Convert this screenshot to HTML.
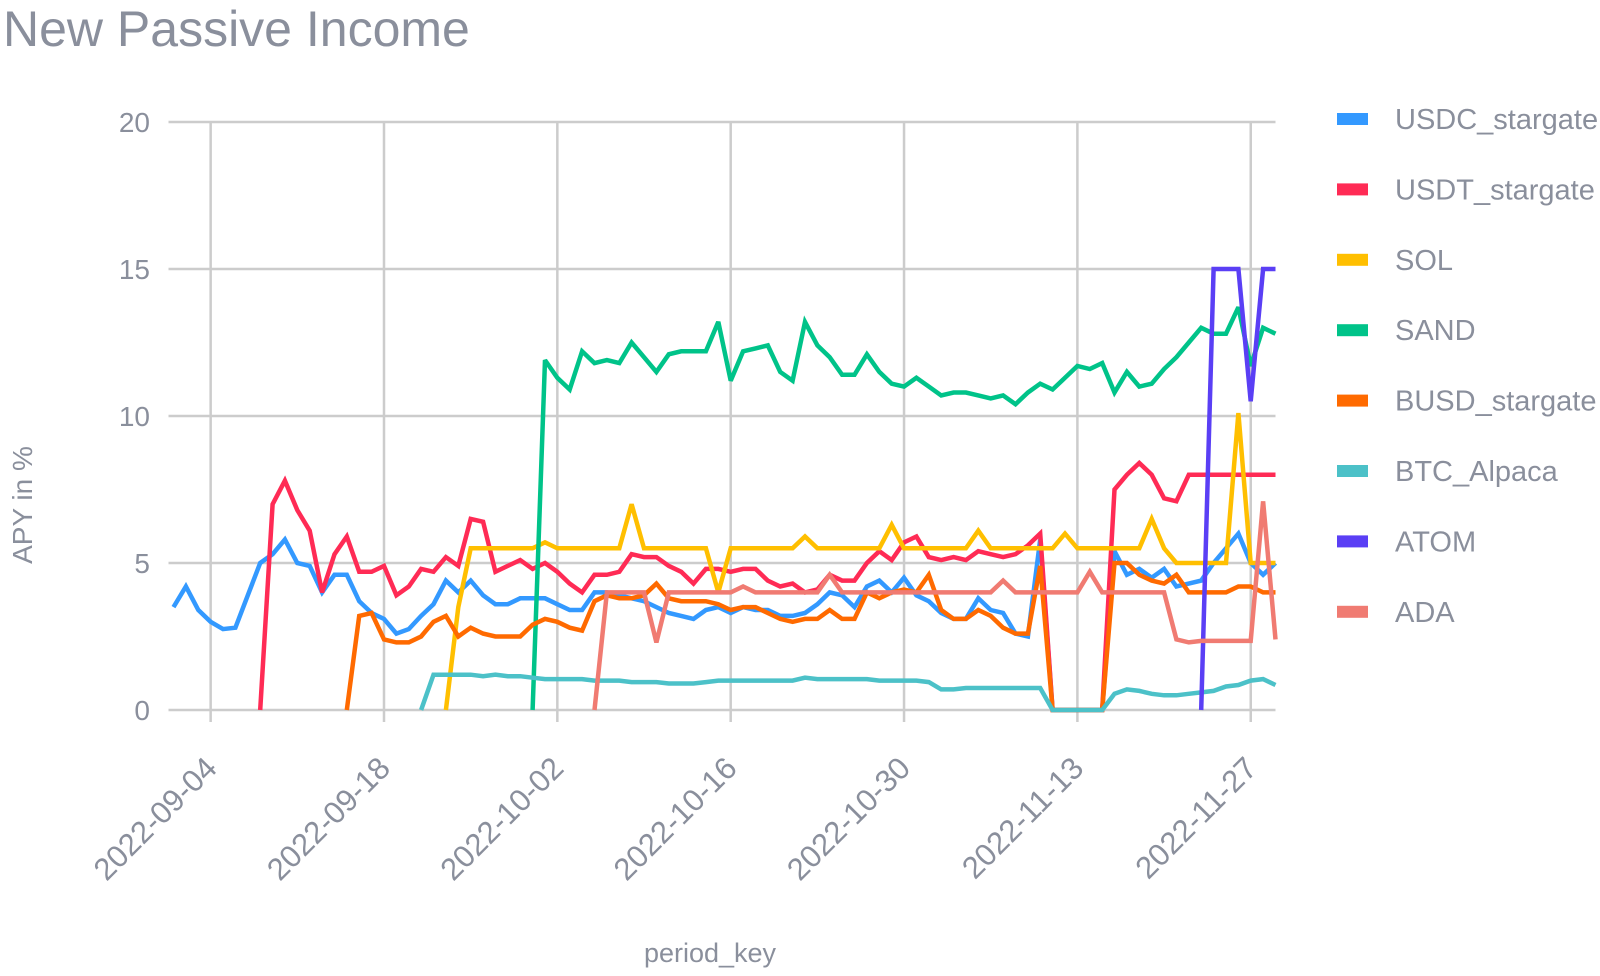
<!DOCTYPE html>
<html><head><meta charset="utf-8"><style>
body{margin:0;background:#fff;width:1600px;height:971px;overflow:hidden;font-family:"Liberation Sans",sans-serif}
</style></head><body>
<svg id="chart" width="1600" height="971" xmlns="http://www.w3.org/2000/svg" font-family="Liberation Sans, sans-serif">
<text x="3" y="46" font-size="50" fill="#8a8f9c">New Passive Income</text>
<g id="grid"></g><g id="series"></g><g id="legend"></g>
<text x="710" y="962" font-size="27" fill="#8a8f9c" text-anchor="middle">period_key</text>
<text transform="translate(32,505) rotate(-90)" font-size="28" fill="#8a8f9c" text-anchor="middle">APY in %</text>
</svg>
<script>
const N=null;
const startDate="2022-09-01";
const xTickLabels=["2022-09-04","2022-09-18","2022-10-02","2022-10-16","2022-10-30","2022-11-13","2022-11-27"];
const xTickIdx=[3,17,31,45,59,73,87];
const yTicks=[0,5,10,15,20];
const seriesNames=["USDC_stargate","USDT_stargate","SOL","SAND","BUSD_stargate","BTC_Alpaca","ATOM","ADA"];
const seriesColors=["#3399ff","#ff2b55","#ffbf00","#00c389","#ff6a00","#4cc1c8","#5a3ff5","#f07b72"];
const usdc=[3.5,4.2,3.4,3.0,2.75,2.8,3.9,5.0,5.3,5.8,5.0,4.9,4.0,4.6,4.6,3.7,3.3,3.1,2.6,2.75,3.2,3.6,4.4,4.0,4.4,3.9,3.6,3.6,3.8,3.8,3.8,3.6,3.4,3.4,4.0,4.0,3.9,3.8,3.7,3.5,3.3,3.2,3.1,3.4,3.5,3.3,3.5,3.4,3.4,3.2,3.2,3.3,3.6,4.0,3.9,3.5,4.2,4.4,4.0,4.5,3.9,3.7,3.3,3.1,3.1,3.8,3.4,3.3,2.6,2.5,5.8,0,0,0,0,0,5.4,4.6,4.8,4.5,4.8,4.2,4.3,4.4,5.0,5.5,6.0,5.0,4.6,5.0];
const usdt=[N,N,N,N,N,N,N,0,7.0,7.8,6.8,6.1,4.0,5.3,5.9,4.7,4.7,4.9,3.9,4.2,4.8,4.7,5.2,4.9,6.5,6.4,4.7,4.9,5.1,4.8,5.0,4.7,4.3,4.0,4.6,4.6,4.7,5.3,5.2,5.2,4.9,4.7,4.3,4.8,4.8,4.7,4.8,4.8,4.4,4.2,4.3,4.0,4.1,4.6,4.4,4.4,5.0,5.4,5.1,5.7,5.9,5.2,5.1,5.2,5.1,5.4,5.3,5.2,5.3,5.6,6.0,0,0,0,0,0,7.5,8.0,8.4,8.0,7.2,7.1,8.0,8,8,8,8,8,8,8];
const sol=[N,N,N,N,N,N,N,N,N,N,N,N,N,N,N,N,N,N,N,N,N,N,0,3.5,5.5,5.5,5.5,5.5,5.5,5.5,5.7,5.5,5.5,5.5,5.5,5.5,5.5,7.0,5.5,5.5,5.5,5.5,5.5,5.5,4.0,5.5,5.5,5.5,5.5,5.5,5.5,5.9,5.5,5.5,5.5,5.5,5.5,5.5,6.3,5.5,5.5,5.5,5.5,5.5,5.5,6.1,5.5,5.5,5.5,5.5,5.5,5.5,6.0,5.5,5.5,5.5,5.5,5.5,5.5,6.5,5.5,5.0,5.0,5.0,5.0,5.0,10.1,5.0,5.0,5.0];
const sand=[N,N,N,N,N,N,N,N,N,N,N,N,N,N,N,N,N,N,N,N,N,N,N,N,N,N,N,N,N,0,11.9,11.3,10.9,12.2,11.8,11.9,11.8,12.5,12.0,11.5,12.1,12.2,12.2,12.2,13.2,11.2,12.2,12.3,12.4,11.5,11.2,13.2,12.4,12.0,11.4,11.4,12.1,11.5,11.1,11.0,11.3,11.0,10.7,10.8,10.8,10.7,10.6,10.7,10.4,10.8,11.1,10.9,11.3,11.7,11.6,11.8,10.8,11.5,11.0,11.1,11.6,12.0,12.5,13.0,12.8,12.8,13.7,11.7,13.0,12.8];
const busd=[N,N,N,N,N,N,N,N,N,N,N,N,N,N,0,3.2,3.3,2.4,2.3,2.3,2.5,3.0,3.2,2.5,2.8,2.6,2.5,2.5,2.5,2.9,3.1,3.0,2.8,2.7,3.7,3.9,3.8,3.8,3.9,4.3,3.8,3.7,3.7,3.7,3.6,3.4,3.5,3.5,3.3,3.1,3.0,3.1,3.1,3.4,3.1,3.1,4.0,3.8,4.0,4.1,4.0,4.6,3.4,3.1,3.1,3.4,3.2,2.8,2.6,2.6,4.9,0,0,0,0,0,5.0,5.0,4.6,4.4,4.3,4.6,4.0,4.0,4.0,4.0,4.2,4.2,4.0,4.0];
const btc=[N,N,N,N,N,N,N,N,N,N,N,N,N,N,N,N,N,N,N,N,0,1.2,1.2,1.2,1.2,1.15,1.2,1.15,1.15,1.1,1.05,1.05,1.05,1.05,1.0,1.0,1.0,0.95,0.95,0.95,0.9,0.9,0.9,0.95,1.0,1.0,1.0,1.0,1.0,1.0,1.0,1.1,1.05,1.05,1.05,1.05,1.05,1.0,1.0,1.0,1.0,0.95,0.7,0.7,0.75,0.75,0.75,0.75,0.75,0.75,0.75,0,0,0,0,0,0.55,0.7,0.65,0.55,0.5,0.5,0.55,0.6,0.65,0.8,0.85,1.0,1.05,0.85];
const atom=[N,N,N,N,N,N,N,N,N,N,N,N,N,N,N,N,N,N,N,N,N,N,N,N,N,N,N,N,N,N,N,N,N,N,N,N,N,N,N,N,N,N,N,N,N,N,N,N,N,N,N,N,N,N,N,N,N,N,N,N,N,N,N,N,N,N,N,N,N,N,N,N,N,N,N,N,N,N,N,N,N,N,N,0,15,15,15,10.5,15,15];
const ada=[N,N,N,N,N,N,N,N,N,N,N,N,N,N,N,N,N,N,N,N,N,N,N,N,N,N,N,N,N,N,N,N,N,N,0,4.0,4.0,4.0,4.0,2.3,4.0,4.0,4.0,4.0,4.0,4.0,4.2,4.0,4.0,4.0,4.0,4.0,4.0,4.6,4.0,4.0,4.0,4.0,4.0,4.0,4.0,4.0,4.0,4.0,4.0,4.0,4.0,4.4,4.0,4.0,4.0,4.0,4.0,4.0,4.7,4.0,4.0,4.0,4.0,4.0,4.0,2.4,2.3,2.35,2.35,2.35,2.35,2.35,7.1,2.4];
const seriesData=[usdc,usdt,sol,sand,busd,btc,atom,ada];

const NS="http://www.w3.org/2000/svg";
const X0=173.5,X1=1275.5,Y0=710,Y20=122,NPTS=90;
function xScale(i){return X0+(X1-X0)*i/(NPTS-1);}
function yScale(v){return Y0+(Y20-Y0)*v/20;}
function mk(tag,attrs,parent){const e=document.createElementNS(NS,tag);for(const k in attrs)e.setAttribute(k,attrs[k]);parent.appendChild(e);return e;}
const grid=document.getElementById('grid');
yTicks.forEach(t=>{
  const l=mk('line',{x1:X0-5,x2:X1,y1:yScale(t),y2:yScale(t),stroke:'#cccccc','stroke-width':2.5},grid);
  
  
  const tx=mk('text',{x:150,y:yScale(t)+10,'font-size':28,fill:'#8a8f9c','text-anchor':'end'},grid);
  tx.textContent=t;
  
  
});
xTickIdx.forEach((ix,k)=>{
  const x=xScale(ix);
  const l=mk('line',{x1:x,x2:x,y1:Y20,y2:Y0+12,stroke:'#cccccc','stroke-width':2.5},grid);
  
  
  const tx=mk('text',{x:x+8,y:Y0+60,'font-size':31,fill:'#8a8f9c','text-anchor':'end',transform:`rotate(-45 ${x+8} ${Y0+60})`},grid);
  tx.textContent=xTickLabels[k];
  
  
});
const sg=document.getElementById('series');
seriesData.forEach((arr,s)=>{
  let d='',pen=false;
  arr.forEach((v,i)=>{
    if(v===null){pen=false;return;}
    d+=(pen?'L':'M')+xScale(i).toFixed(1)+','+yScale(v).toFixed(1);pen=true;
  });
  const p=mk('path',{d:d,fill:'none',stroke:seriesColors[s],'stroke-width':4.5,'stroke-linejoin':'miter','stroke-miterlimit':3},sg);
  
  
});
const lg=document.getElementById('legend');
seriesNames.forEach((n,s)=>{
  const y=119+s*70.4;
  const g=mk('g',{},lg);
  
  
  mk('rect',{x:1337,y:y-6,width:31,height:12,fill:seriesColors[s]},g);
  const t=mk('text',{x:1395,y:y+10,'font-size':29,fill:'#8a8f9c'},g);
  t.textContent=n;
});
</script>
</body></html>
